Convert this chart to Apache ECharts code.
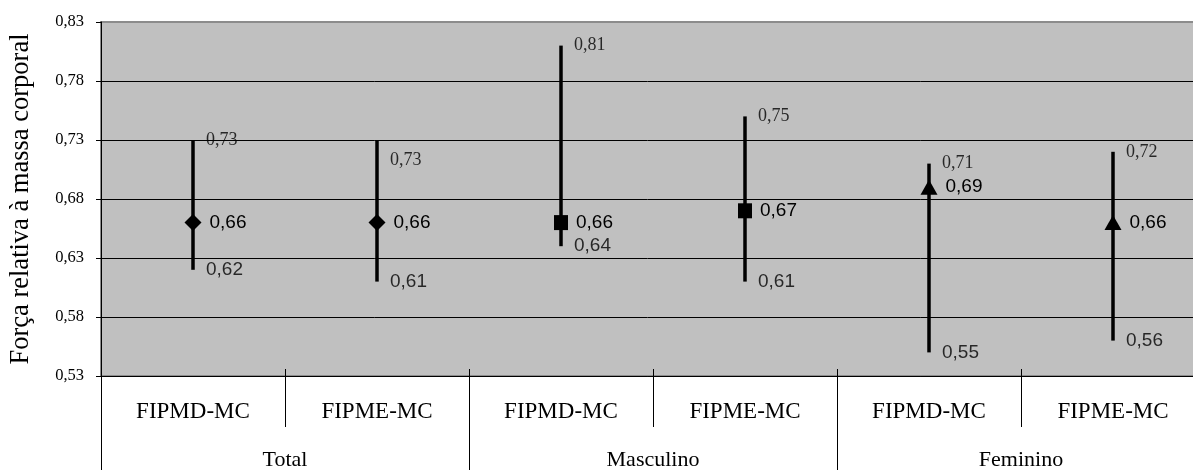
<!DOCTYPE html>
<html>
<head>
<meta charset="utf-8">
<script src="https://cdn.jsdelivr.net/npm/echarts@6/dist/echarts.min.js"></script>
<style>
  html, body { margin: 0; padding: 0; background: #fff; }
  #chart { width: 1193px; height: 470px; }
</style>
</head>
<body>
<div id="chart"></div>
<script>
// Groups and measures on the two-level category axis
const groups = ['Total', 'Masculino', 'Feminino'];
const measures = ['FIPMD-MC', 'FIPME-MC', 'FIPMD-MC', 'FIPME-MC', 'FIPMD-MC', 'FIPME-MC'];

// Mean, maximum and minimum relative strength per measure
const meanValues = [0.66, 0.66, 0.66, 0.67, 0.69, 0.66];
const maxValues = [0.73, 0.73, 0.81, 0.75, 0.71, 0.72];
const minValues = [0.62, 0.61, 0.64, 0.61, 0.55, 0.56];

// Value axis range
const yMin = 0.53;
const yMax = 0.83;
const yStep = 0.05;

// Marker shape for each group (Total, Masculino, Feminino)
const groupSymbols = ['diamond', 'rect', 'triangle'];
const symbolSizes = { diamond: [17, 17], rect: [14, 15], triangle: [17, 15] };
// Extra nudge for one of the maximum labels
const maxLabelShift = { 1: [0, 20] };

const fmt = v => v.toFixed(2).replace('.', ',');
const SERIF = 'Liberation Serif';
const SANS = 'Liberation Sans';

const chart = echarts.init(document.getElementById('chart'), null, { renderer: 'canvas' });

const perGroup = measures.length / groups.length;

const option = {
  animation: false,
  backgroundColor: '#ffffff',
  grid: {
    left: 101, top: 22, right: -12, bottom: 94,
    outerBoundsMode: 'none', containLabel: false,
    show: true, backgroundColor: '#c0c0c0', borderColor: '#8c8c8c', borderWidth: 2
  },
  xAxis: [
    {
      type: 'category', data: measures, position: 'bottom', boundaryGap: true,
      axisLine: { show: true, lineStyle: { color: '#000', width: 1 } },
      axisTick: { show: true, interval: 0, length: 51, lineStyle: { color: '#000', width: 1 } },
      axisLabel: { interval: 0, margin: 24, fontFamily: SERIF, fontSize: 23, color: '#000' },
      splitLine: { show: false }
    },
    {
      type: 'category', data: measures, position: 'bottom', boundaryGap: true,
      axisLine: { show: false },
      axisTick: { show: true, inside: true, interval: 0, length: 7, lineStyle: { color: '#000', width: 1 } },
      axisLabel: { show: false },
      splitLine: { show: false }
    },
    {
      type: 'category', data: groups, position: 'bottom', boundaryGap: true,
      axisLine: { show: false },
      axisTick: { show: true, interval: 0, length: 100, lineStyle: { color: '#000', width: 1 } },
      axisLabel: { interval: 0, margin: 73, fontFamily: SERIF, fontSize: 22, color: '#000' },
      splitLine: { show: false }
    }
  ],
  yAxis: {
    type: 'value', min: yMin, max: yMax, interval: yStep,
    name: 'Força relativa à massa corporal',
    nameLocation: 'middle', nameRotate: 90, nameGap: 66,
    nameTextStyle: { fontFamily: SERIF, fontSize: 26.5, color: '#000' },
    axisLine: { show: true, lineStyle: { color: '#000', width: 1 } },
    axisTick: { show: true, length: 5, lineStyle: { color: '#000', width: 1 } },
    axisLabel: { margin: 17, fontFamily: SERIF, fontSize: 16.5, color: '#000', formatter: v => fmt(v) },
    splitLine: {
      show: true,
      lineStyle: { color: ['#000', '#000', '#000', '#000', '#000', '#000', '#8c8c8c'], width: 1 }
    }
  },
  series: [
    {
      name: 'Amplitude',
      type: 'custom',
      xAxisIndex: 0,
      encode: { x: 0, y: [1, 2] },
      data: measures.map((_, i) => [i, minValues[i], maxValues[i]]),
      renderItem: (params, api) => {
        const lo = api.coord([api.value(0), api.value(1)]);
        const hi = api.coord([api.value(0), api.value(2)]);
        return {
          type: 'line',
          shape: { x1: hi[0], y1: hi[1], x2: lo[0], y2: lo[1] },
          style: { stroke: '#000', lineWidth: 3.5 }
        };
      },
      z: 2
    },
    {
      name: 'Média',
      type: 'scatter',
      xAxisIndex: 0,
      data: meanValues.map((v, i) => {
        const sym = groupSymbols[Math.floor(i / perGroup)];
        return { value: [i, v], symbol: sym, symbolSize: symbolSizes[sym] };
      }),
      itemStyle: { color: '#000', opacity: 1 },
      label: {
        show: true, position: 'right', distance: 8,
        fontFamily: SANS, fontSize: 19, color: '#000',
        formatter: p => fmt(p.value[1])
      },
      z: 3
    },
    {
      name: 'Máximo',
      type: 'scatter',
      xAxisIndex: 0,
      symbolSize: 0,
      data: maxValues.map((v, i) => {
        const item = { value: [i, v] };
        if (maxLabelShift[i]) item.label = { offset: maxLabelShift[i] };
        return item;
      }),
      label: {
        show: true, position: 'right', distance: 13,
        fontFamily: SERIF, fontSize: 18, color: '#000',
        formatter: p => fmt(p.value[1])
      },
      z: 3
    },
    {
      name: 'Mínimo',
      type: 'scatter',
      xAxisIndex: 0,
      symbolSize: 0,
      data: minValues.map((v, i) => [i, v]),
      label: {
        show: true, position: 'right', distance: 13,
        fontFamily: SANS, fontSize: 19, color: '#000',
        formatter: p => fmt(p.value[1])
      },
      z: 3
    }
  ]
};

chart.setOption(option);
</script>
</body>
</html>
